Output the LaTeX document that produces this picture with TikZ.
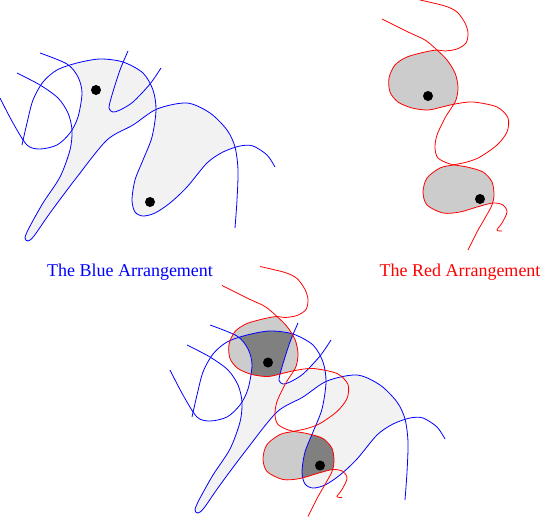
\documentclass[tikz,border=0pt]{standalone}
\usepackage{fontspec}
\setmainfont{Liberation Serif}
\begin{document}
\begin{tikzpicture}[x=1pt,y=-1pt,line width=0.8pt,
  bluecurve/.style={draw={rgb,255:red,0;green,0;blue,255}},
  redcurve/.style={draw={rgb,255:red,255;green,0;blue,0}},
  dot/.style={fill=black}]
\definecolor{bfill}{gray}{0.95}
\definecolor{rfill}{gray}{0.8}
\definecolor{dfill}{gray}{0.5}
\definecolor{pblue}{rgb}{0,0,1}
\definecolor{pred}{rgb}{1,0,0}
\useasboundingbox (0,0) rectangle (545,519);
% blue curves (local coordinates)
\def\crvA{plot[smooth] coordinates {(40,53) (67,64) (78,77) (82,93) (78,117) (70,133) (57,145) (40,149) (27,145) (13,123) (0,98)}}
\def\crvB{plot[smooth] coordinates {(17,73) (40,85) (58,98) (68,113) (72,130) (70,150) (60,177) (43,203) (29,228) (25,238) (28,241) (34,236) (50,213) (77,177) (107,140) (133,125) (157,109) (187,103) (210,113) (227,130) (235,147) (238,170) (237,200) (235,228)}}
\def\crvC{plot[smooth] coordinates {(22,145) (27,123) (33,100) (43,82) (57,70) (77,63) (100,59) (123,62) (143,73) (153,90) (156,110) (152,137) (143,160) (135,180) (132,200) (135,212) (143,216) (155,213) (170,203) (187,187) (207,163) (223,152) (240,146) (253,146) (267,155) (275,167)}}
\def\crvD{plot[smooth] coordinates {(128,51) (120,70) (112,95) (109,108) (113,112) (120,110) (133,102) (150,84) (161,68)}}
% red curves (local coordinates)
\def\crvRa{plot[smooth] coordinates {(420,0) (445,6) (457,12) (465,23) (468,33) (466,43) (457,49) (445,51) (437,50) (425,52) (407,57) (395,65) (389,78) (390,92) (398,102) (412,108) (428,110) (442,107) (455,104) (473,102) (497,107) (508,118) (507,132) (497,145) (480,157) (467,162) (453,165) (440,168) (427,178) (423,192) (427,205) (443,213) (460,212) (477,207) (493,203) (503,205) (507,212) (502,223) (497,230) (502,231)}}
\def\crvRb{plot[smooth] coordinates {(382,19) (408,32) (425,40) (437,50) (447,60) (455,73) (458,87) (456,100) (450,110) (445,118) (437,135) (435,148) (438,158) (450,164) (467,167) (483,172) (492,182) (494,195) (492,205) (485,218) (477,232) (468,250)}}
% regions
\def\regCdown{\crvC -- (275,300) -- (22,300) -- cycle}
\def\regCup{\crvC -- (275,-50) -- (22,-50) -- cycle}
\def\regB{\crvB -- (300,260) -- (300,-50) -- (17,-50) -- cycle}
\def\regnotB{\crvB -- (300,260) -- (300,400) -- (-50,400) -- (-50,73) -- cycle}
\def\regA{\crvA -- (-10,40) -- cycle}
\def\regV{\crvD -- (161,30) -- (128,30) -- cycle}
\def\regQ{\crvRa -- (540,260) -- (540,-10) -- (420,-10) -- cycle}
\def\regL{\crvRb -- (300,250) -- (300,19) -- cycle}

% ===== top left: blue arrangement =====
\begin{scope}
  \clip \regCdown; \clip \regB; \clip (-50,-50) rectangle (180,300);
  \fill[bfill] (-50,-50) rectangle (320,320);
\end{scope}
\begin{scope}
  \clip \regCup; \clip \regnotB;
  \fill[bfill] (-50,-50) rectangle (320,320);
\end{scope}
\fill[white] \regA;
\draw[bluecurve] \crvA;
\draw[bluecurve] \crvB;
\draw[bluecurve] \crvC;
\draw[bluecurve] \crvD;
\fill[dot] (96,90) circle (5);
\fill[dot] (150,202) circle (5);

% ===== top right: red arrangement =====
\begin{scope}
  \clip \regQ; \clip \regL;
  \fill[rfill] (300,-20) rectangle (545,260);
\end{scope}
\draw[redcurve] \crvRa;
\draw[redcurve] \crvRb;
\fill[dot] (428,96) circle (5);
\fill[dot] (480,199) circle (5);

\node[pblue, anchor=base, font=\fontsize{18}{21}\selectfont] (bluelabel) at (130,276) {The Blue Arrangement};
\node[pred, anchor=base, font=\fontsize{18}{21}\selectfont] (redlabel) at (460,276) {The Red Arrangement};

% ===== bottom: overlay =====
\begin{scope}
  \clip[shift={(170,272)}] \regCdown; \clip[shift={(170,272)}] \regB; \clip[shift={(170,272)}] (-50,-50) rectangle (180,300);
  \fill[bfill] (0,0) rectangle (545,519);
\end{scope}
\begin{scope}
  \clip[shift={(170,272)}] \regCup; \clip[shift={(170,272)}] \regnotB;
  \fill[bfill] (0,0) rectangle (545,519);
\end{scope}
\fill[white, shift={(170,272)}] \regA;
\begin{scope}
  \clip[shift={(170,272)}] \regCdown;
  \fill[white, shift={(170,272)}] \regV;
\end{scope}
% red blobs
\begin{scope}
  \clip[shift={(-160,266.5)}] \regQ; \clip[shift={(-160,266.5)}] \regL;
  \fill[rfill] (0,0) rectangle (545,519);
\end{scope}
% dark intersections
\begin{scope}
  \clip[shift={(-160,266.5)}] \regQ; \clip[shift={(-160,266.5)}] \regL;
  \clip[shift={(170,272)}] \regCdown; \clip[shift={(170,272)}] \regB; \clip[shift={(170,272)}] (-50,-50) rectangle (180,300);
  \fill[dfill] (0,0) rectangle (545,519);
\end{scope}
\begin{scope}
  \clip[shift={(-160,266.5)}] \regQ; \clip[shift={(-160,266.5)}] \regL;
  \clip[shift={(170,272)}] \regCup; \clip[shift={(170,272)}] \regnotB;
  \fill[dfill] (0,0) rectangle (545,519);
\end{scope}
\begin{scope}
  \clip[shift={(-160,266.5)}] \regQ; \clip[shift={(-160,266.5)}] \regL;
  \fill[rfill, shift={(170,272)}] \regA;
  \fill[rfill, shift={(170,272)}] \regV;
\end{scope}
\begin{scope}[shift={(170,272)}]
  \draw[bluecurve] \crvA;
  \draw[bluecurve] \crvB;
  \draw[bluecurve] \crvC;
  \draw[bluecurve] \crvD;
\end{scope}
\begin{scope}[shift={(-160,266.5)}]
  \draw[redcurve] \crvRa;
  \draw[redcurve] \crvRb;
  \fill[dot] (428,96) circle (5);
  \fill[dot] (480,199) circle (5);
\end{scope}
\end{tikzpicture}
\end{document}
